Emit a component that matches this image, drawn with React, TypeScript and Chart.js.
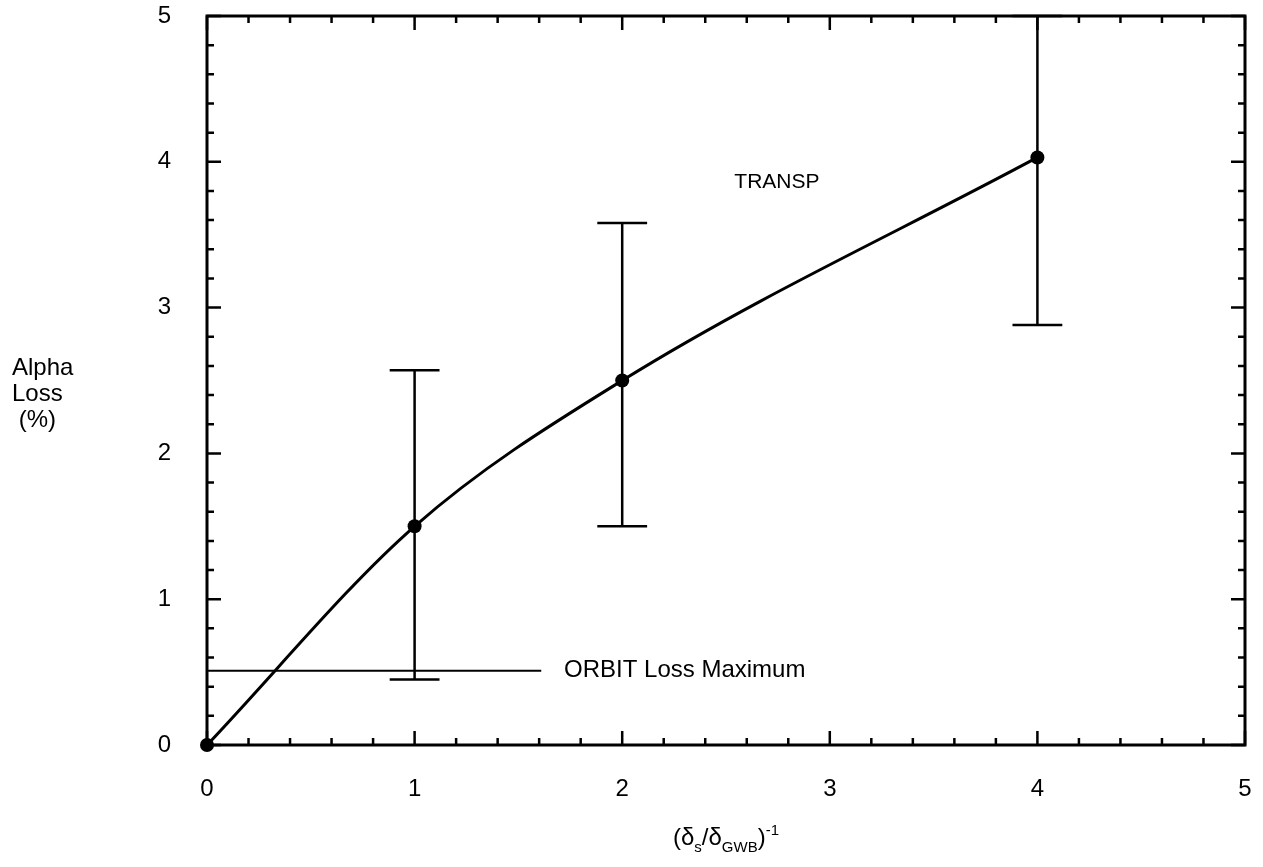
import React, { useEffect, useRef } from "react";
import { Chart, registerables } from "chart.js";

Chart.register(...registerables);

// ---- data ----
const curveX = [0, 1, 2, 4];
const curveY = [0, 1.5, 2.5, 4.03];
const errX = [1, 2, 4];
const errLow = [0.45, 1.5, 2.88];
const errHigh = [2.57, 3.58, 5.0];
const orbitLevel = 0.51;
const orbitXRange = [0, 1.61];
const xTickValues = [0, 1, 2, 3, 4, 5];
const yTickValues = [0, 1, 2, 3, 4, 5];
const annotationTexts = ["TRANSP", "ORBIT Loss Maximum"];
const annotationX = [2.54, 1.72];
const annotationY = [3.86, 0.51];
const yTitleLines = ["Alpha", "Loss", " (%)"];

// ---- style ----
const FONT = "'Liberation Sans', Arial, Helvetica, sans-serif";
const W = 1263;
const H = 867;
const CAP_HALF = 0.12;
const MINOR_STEP = 0.2;

const framePlugin = {
  id: "framePlugin",
  afterDraw(chart: any) {
    const { ctx, chartArea: a, scales } = chart;
    const xs = scales.x;
    const ys = scales.y;
    ctx.save();
    ctx.strokeStyle = "#000";
    ctx.lineCap = "butt";
    // frame
    ctx.lineWidth = 3;
    ctx.strokeRect(a.left, a.top, a.right - a.left, a.bottom - a.top);
    // ticks
    ctx.lineWidth = 2.5;
    const nx = Math.round((xs.max - xs.min) / MINOR_STEP);
    for (let i = 0; i <= nx; i++) {
      const v = xs.min + i * MINOR_STEP;
      const major = Math.abs(v - Math.round(v)) < 1e-6;
      const len = major ? 14 : 7;
      const px = xs.getPixelForValue(v);
      ctx.beginPath();
      ctx.moveTo(px, a.bottom);
      ctx.lineTo(px, a.bottom - len);
      ctx.moveTo(px, a.top);
      ctx.lineTo(px, a.top + len);
      ctx.stroke();
    }
    const ny = Math.round((ys.max - ys.min) / MINOR_STEP);
    for (let i = 0; i <= ny; i++) {
      const v = ys.min + i * MINOR_STEP;
      const major = Math.abs(v - Math.round(v)) < 1e-6;
      const len = major ? 14 : 7;
      const py = ys.getPixelForValue(v);
      ctx.beginPath();
      ctx.moveTo(a.left, py);
      ctx.lineTo(a.left + len, py);
      ctx.moveTo(a.right, py);
      ctx.lineTo(a.right - len, py);
      ctx.stroke();
    }
    // annotations
    ctx.fillStyle = "#000";
    ctx.textBaseline = "middle";
    ctx.textAlign = "left";
    annotationTexts.forEach((t, i) => {
      ctx.font = (i === 0 ? "21px " : "24px ") + FONT;
      ctx.fillText(t, xs.getPixelForValue(annotationX[i]), ys.getPixelForValue(annotationY[i]));
    });
    // y title
    ctx.font = "24px " + FONT;
    yTitleLines.forEach((t, i) => {
      ctx.fillText(t, 12, 368 + i * 26);
    });
    // x title: (δs/δGWB)-1
    const parts = [
      { t: "(δ", size: 24, dy: 0 },
      { t: "s", size: 15, dy: 7 },
      { t: "/δ", size: 24, dy: 0 },
      { t: "GWB", size: 15, dy: 7 },
      { t: ")", size: 24, dy: 0 },
      { t: "-1", size: 15, dy: -10 },
    ];
    let total = 0;
    parts.forEach((p) => {
      ctx.font = p.size + "px " + FONT;
      total += ctx.measureText(p.t).width;
    });
    let cx = (a.left + a.right) / 2 - total / 2;
    ctx.textBaseline = "alphabetic";
    const base = 845;
    parts.forEach((p) => {
      ctx.font = p.size + "px " + FONT;
      ctx.fillText(p.t, cx, base + p.dy);
      cx += ctx.measureText(p.t).width;
    });
    ctx.restore();
  },
};

export default function App() {
  const ref = useRef<HTMLCanvasElement | null>(null);
  useEffect(() => {
    if (!ref.current) return;
    const curve = curveX.map((x, i) => ({ x, y: curveY[i] }));
    const whiskers: any[] = [];
    const caps: any[] = [];
    errX.forEach((x, i) => {
      whiskers.push({ x, y: errLow[i] }, { x, y: errHigh[i] }, { x, y: null });
      caps.push(
        { x: x - CAP_HALF, y: errLow[i] },
        { x: x + CAP_HALF, y: errLow[i] },
        { x, y: null },
        { x: x - CAP_HALF, y: errHigh[i] },
        { x: x + CAP_HALF, y: errHigh[i] },
        { x, y: null }
      );
    });
    const orbit = orbitXRange.map((x) => ({ x, y: orbitLevel }));
    const tickFont = { family: FONT, size: 24 };
    const chart = new Chart(ref.current, {
      type: "line",
      data: {
        datasets: [
          {
            data: curve,
            borderColor: "#000",
            backgroundColor: "#000",
            borderWidth: 3,
            pointRadius: 7,
            pointBackgroundColor: "#000",
            pointBorderWidth: 0,
            cubicInterpolationMode: "monotone",
            clip: false,
          } as any,
          {
            data: whiskers,
            borderColor: "#000",
            borderWidth: 2.5,
            pointRadius: 0,
            spanGaps: false,
            clip: false,
          } as any,
          {
            data: caps,
            borderColor: "#000",
            borderWidth: 2.5,
            pointRadius: 0,
            spanGaps: false,
            clip: false,
          } as any,
          {
            data: orbit,
            borderColor: "#000",
            borderWidth: 2,
            pointRadius: 0,
          } as any,
        ],
      },
      options: {
        animation: false,
        responsive: false,
        layout: { padding: { top: 16, right: 18, left: 0, bottom: 0 } },
        plugins: { legend: { display: false }, tooltip: { enabled: false } },
        scales: {
          x: {
            type: "linear",
            min: 0,
            max: 5,
            afterBuildTicks: (s: any) => {
              s.ticks = xTickValues.map((v) => ({ value: v }));
            },
            afterFit: (s: any) => {
              s.height = H - 745;
              s.paddingLeft = 0;
              s.paddingRight = 0;
            },
            grid: { display: false, drawTicks: false },
            border: { display: false },
            ticks: { color: "#000", font: tickFont, padding: 30, maxRotation: 0, callback: (v: any) => String(v) },
          },
          y: {
            type: "linear",
            min: 0,
            max: 5,
            afterBuildTicks: (s: any) => {
              s.ticks = yTickValues.map((v) => ({ value: v }));
            },
            afterFit: (s: any) => {
              s.width = 207;
              s.paddingTop = 0;
              s.paddingBottom = 0;
            },
            grid: { display: false, drawTicks: false },
            border: { display: false },
            ticks: { color: "#000", font: tickFont, padding: 36, callback: (v: any) => String(v) },
          },
        },
      } as any,
      plugins: [framePlugin],
    });
    return () => chart.destroy();
  }, []);
  return (
    <div style={{ position: "absolute", left: 0, top: 0, width: W, height: H, background: "#fff" }}>
      <canvas ref={ref} width={W} height={H} style={{ width: W, height: H }} />
    </div>
  );
}
